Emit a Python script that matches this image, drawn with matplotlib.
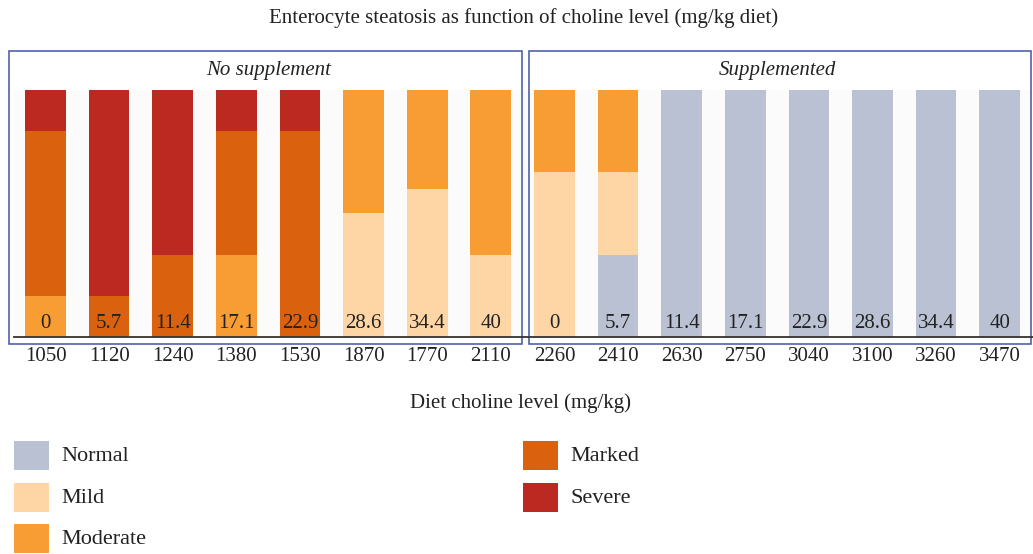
import matplotlib
matplotlib.use("Agg")
import matplotlib.pyplot as plt
from matplotlib.patches import Rectangle
from matplotlib.lines import Line2D
import numpy as np

# ---- data ----
levels_no_supp = ["1050", "1120", "1240", "1380", "1530", "1870", "1770", "2110"]
levels_supp = ["2260", "2410", "2630", "2750", "3040", "3100", "3260", "3470"]
supp_labels = ["0", "5.7", "11.4", "17.1", "22.9", "28.6", "34.4", "40"]

grades = ["Normal", "Mild", "Moderate", "Marked", "Severe"]
colors = ["#b9c1d3", "#fed5a5", "#f79d33", "#da620e", "#bc2920"]

# percentage of animals per grade (stacked bottom -> top)
no_supp_normal = [0, 0, 0, 0, 0, 0, 0, 0]
no_supp_mild = [0, 0, 0, 0, 0, 50, 60, 33.3]
no_supp_moderate = [16.7, 0, 0, 33.3, 0, 50, 40, 66.7]
no_supp_marked = [66.7, 16.7, 33.3, 50, 83.3, 0, 0, 0]
no_supp_severe = [16.7, 83.3, 66.7, 16.7, 16.7, 0, 0, 0]

supp_normal = [0, 33.3, 100, 100, 100, 100, 100, 100]
supp_mild = [66.7, 33.3, 0, 0, 0, 0, 0, 0]
supp_moderate = [33.3, 33.3, 0, 0, 0, 0, 0, 0]
supp_marked = [0, 0, 0, 0, 0, 0, 0, 0]
supp_severe = [0, 0, 0, 0, 0, 0, 0, 0]

series = {
    "Normal": no_supp_normal + supp_normal,
    "Mild": no_supp_mild + supp_mild,
    "Moderate": no_supp_moderate + supp_moderate,
    "Marked": no_supp_marked + supp_marked,
    "Severe": no_supp_severe + supp_severe,
}
categories = levels_no_supp + levels_supp
bar_labels = supp_labels + supp_labels

W, H = 1033, 554
DPI = 100
fig = plt.figure(figsize=(W / DPI, H / DPI), dpi=DPI)
fig.patch.set_facecolor("white")
FONT = "Liberation Serif"
TXT = "#222222"
FS = 15


def fx(px):
    return px / W


def fy(py):
    return 1 - py / H


# axes geometry (pixels)
x0, x1 = 13.7, 1031.5
y_top, y_bot = 89.6, 337

ax = fig.add_axes([fx(x0), fy(y_bot), fx(x1 - x0), (y_bot - y_top) / H])
ax.set_facecolor("#fbfbfb")
x = np.arange(len(categories))
bottom = np.zeros(len(categories))
for g, c in zip(grades, colors):
    vals = np.array(series[g], dtype=float)
    ax.bar(x, vals, 0.64, bottom=bottom, color=c, edgecolor="none", linewidth=0)
    bottom += vals
for xi, lab in zip(x, bar_labels):
    ax.text(xi, 3.5, lab, ha="center", va="baseline", fontsize=FS,
            family=FONT, color=TXT)
ax.set_xlim(-0.5, len(categories) - 0.5)
ax.set_ylim(0, 100)
ax.set_xticks(x)
ax.set_xticklabels(categories, fontsize=FS, family=FONT, color=TXT)
for t in ax.get_xticklabels():
    t.set_va("baseline")
ax.tick_params(axis="x", length=0, pad=17)
ax.set_yticks([])
for s in ax.spines.values():
    s.set_visible(False)

# baseline line
fig.add_artist(Line2D([fx(14), fx(1033)], [fy(337.3), fy(337.3)],
                      color="#333333", lw=1.3))

# panel boxes
box_col = "#3f55a0"
fig.add_artist(Rectangle((fx(8.5), fy(344)), fx(522.3 - 8.5), (344 - 50.8) / H,
                         fill=False, edgecolor=box_col, lw=1.1))
fig.add_artist(Rectangle((fx(529.3), fy(344)), fx(1031 - 529.3), (344 - 50.8) / H,
                         fill=False, edgecolor=box_col, lw=1.1))
fig.text(fx(269), fy(75.5), "No supplement", ha="center", va="baseline",
         fontsize=FS, family=FONT, style="italic", color=TXT)
fig.text(fx(777), fy(75.5), "Supplemented", ha="center", va="baseline",
         fontsize=FS, family=FONT, style="italic", color=TXT)

# title and axis label
fig.text(fx(523.5), fy(23), "Enterocyte steatosis as function of choline level (mg/kg diet)",
         ha="center", va="baseline", fontsize=FS, family=FONT, color=TXT)
fig.text(fx(521), fy(408.3), "Diet choline level (mg/kg)",
         ha="center", va="baseline", fontsize=FS, family=FONT, color=TXT)

# legend
sq_pos = [(14, 441), (14, 483), (14, 524), (522.7, 441), (522.7, 483)]
for (lx, ly), g, c in zip(sq_pos, grades, colors):
    fig.add_artist(Rectangle((fx(lx), fy(ly + 29)), fx(35), 29 / H,
                             facecolor=c, edgecolor="none"))
    fig.text(fx(lx + 47.3), fy(ly + 20), g, ha="left", va="baseline",
             fontsize=16, family=FONT, color=TXT)

fig.savefig("out.png", dpi=DPI)
